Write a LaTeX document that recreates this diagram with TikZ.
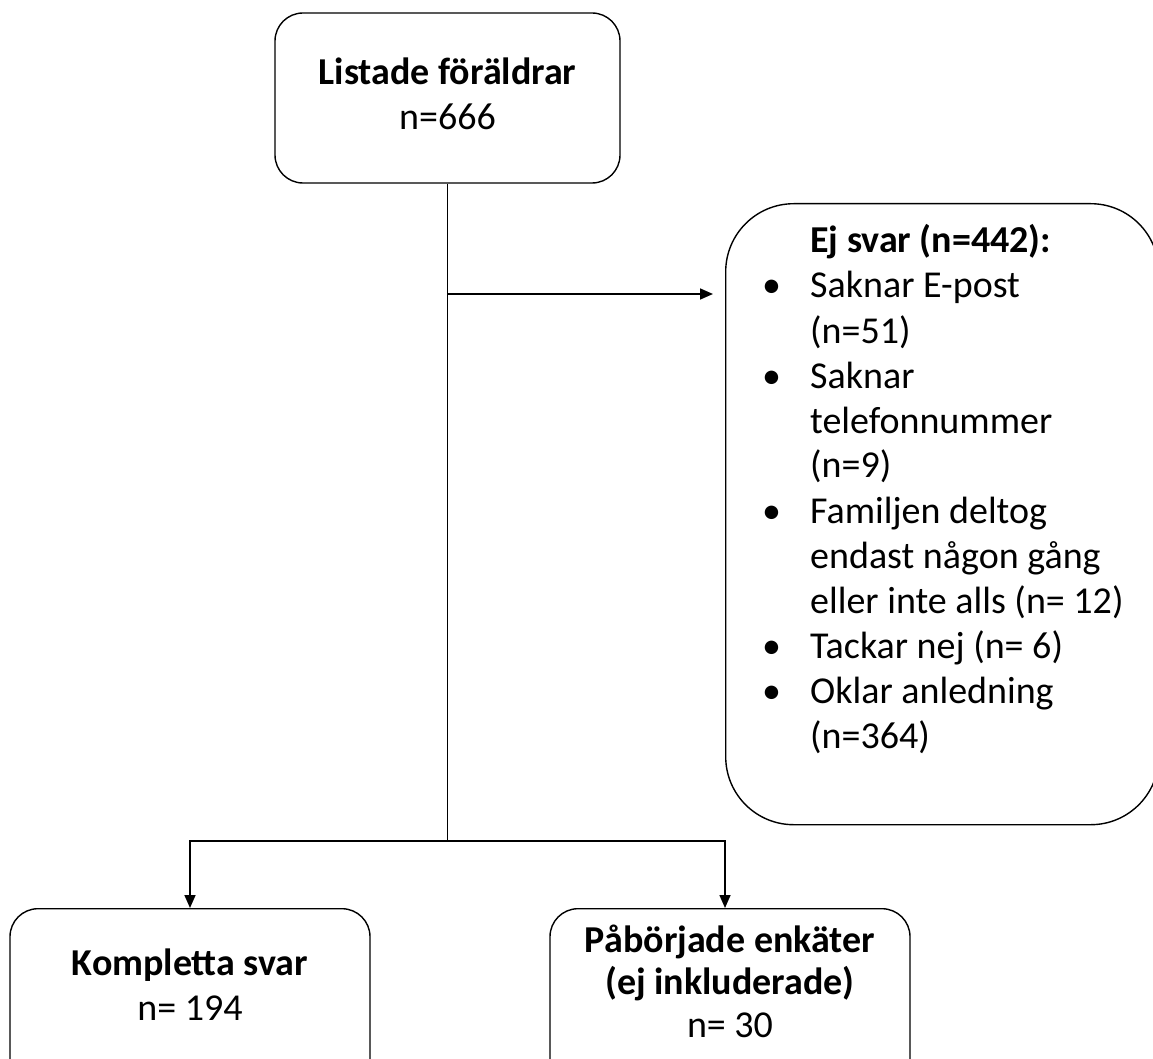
\documentclass[tikz,border=0pt]{standalone}
\usepackage{fontspec}
\setmainfont{Carlito}
\usepackage{tikz}
\usetikzlibrary{arrows.meta}

\begin{document}
\begin{tikzpicture}[x=1pt,y=-1pt,
  ruta/.style={draw, line width=1.4pt, rounded corners=28pt, inner sep=0pt},
  txt/.style={font=\fontsize{38}{45}\selectfont, align=center, inner sep=0pt},
  pil/.style={line width=1.6pt, -{Triangle[length=13pt,width=11pt]}}]
\clip (0,0) rectangle (1153,1059);

\node[ruta, minimum width=345pt, minimum height=170pt] (lista) at (447.5,98) {};
\node[txt, anchor=base] (listatxt) at (447.5,130) {\textbf{Listade föräldrar}\\n=666};

\node[ruta, rounded corners=68pt, minimum width=433pt, minimum height=621pt, anchor=north west] (ejsvar) at (725,203) {};
\node[txt, align=left, anchor=base west] (ejsvartxt) at (760,253) {%
\begin{tabular}[t]{@{}p{50pt}@{}l@{}}
 & \textbf{Ej svar (n=442):}\\
\hspace*{2pt}• & Saknar E-post\\
 & (n=51)\\
\hspace*{2pt}• & Saknar\\
 & telefonnummer\\
 & (n=9)\\
\hspace*{2pt}• & Familjen deltog\\
 & endast någon gång\\
 & eller inte alls (n= 12)\\
\hspace*{2pt}• & Tackar nej (n= 6)\\
\hspace*{2pt}• & Oklar anledning\\
 & (n=364)
\end{tabular}};

\node[ruta, minimum width=360pt, minimum height=200pt, anchor=north] (komplett) at (190,908) {};
\node[txt, anchor=base] (komplett txt) at (190,1020) {\textbf{Kompletta svar}\\n= 194};

\node[ruta, minimum width=360pt, minimum height=200pt, anchor=north] (paborjat) at (730,908) {};
\node[txt, font=\fontsize{38}{42.5}\selectfont, anchor=base] (paborjattxt) at (730,1037) {\textbf{Påbörjade enkäter}\\\textbf{(ej inkluderade)}\\n= 30};

\coordinate (mitt) at (447.5,294);
\coordinate (delning) at (447.5,841);
\draw[line width=1.6pt] (lista.south) -- (delning);
\draw[pil, shorten >=12pt] (mitt) -- (mitt -| ejsvar.west);
\draw[pil] (delning) -| (komplett.north);
\draw[pil] (delning) -| ([xshift=-5pt]paborjat.north);
\end{tikzpicture}
\end{document}
